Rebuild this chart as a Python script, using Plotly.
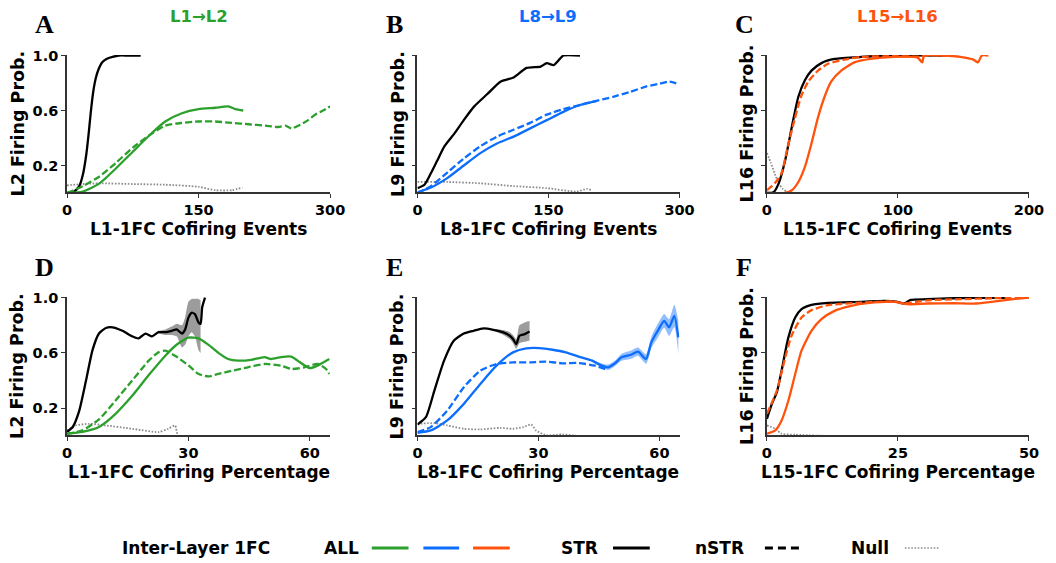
import plotly.graph_objects as go

# ---------------- colours ----------------
GREEN = "#2ca02c"
BLUE = "#0d6efd"
ORANGE = "#ff530d"
BLACK = "#000000"
NULLC = "#8c8c8c"

# ---------------- panel A : L1->L2, events ----------------
A_STR_x = [0, 4, 8, 14, 18, 22, 25, 27, 30, 33, 36, 40, 45, 52, 59, 70, 84]
A_STR_y = [0.0, 0.0, 0.01, 0.05, 0.13, 0.28, 0.45, 0.58, 0.74, 0.84, 0.90, 0.95, 0.975, 0.99, 1.0, 1.0, 1.0]
A_ALL_x = [0, 18, 37, 56, 75, 94, 112, 131, 150, 169, 184, 192, 201]
A_ALL_y = [0.0, 0.01, 0.07, 0.18, 0.30, 0.42, 0.52, 0.58, 0.61, 0.62, 0.63, 0.61, 0.60]
A_NSTR_x = [0, 18, 37, 56, 75, 94, 112, 131, 150, 169, 188, 207, 226, 241, 249, 256, 264, 275, 283, 292, 300]
A_NSTR_y = [0.0, 0.05, 0.12, 0.22, 0.33, 0.42, 0.49, 0.51, 0.52, 0.52, 0.51, 0.50, 0.49, 0.48, 0.49, 0.47, 0.49, 0.53, 0.57, 0.60, 0.63]
A_NULL_x = [0, 18, 37, 75, 112, 150, 169, 188, 200]
A_NULL_y = [0.055, 0.065, 0.07, 0.065, 0.06, 0.045, 0.02, 0.02, 0.04]

# ---------------- panel B : L8->L9, events ----------------
B_STR_x = [0, 8, 15.5, 23, 31, 42, 53, 65, 80, 95, 110, 125, 141, 148, 156, 163, 167, 186]
B_STR_y = [0.035, 0.06, 0.145, 0.24, 0.34, 0.43, 0.53, 0.63, 0.72, 0.81, 0.84, 0.91, 0.92, 0.945, 0.93, 0.976, 1.0, 1.0]
B_ALL_x = [0, 15.5, 34.5, 53, 72, 91, 110, 129, 148, 167, 186, 205]
B_ALL_y = [0.005, 0.04, 0.11, 0.20, 0.29, 0.36, 0.41, 0.47, 0.53, 0.59, 0.64, 0.67]
B_NSTR_x = [0, 15.5, 34.5, 53, 72, 91, 110, 129, 148, 167, 186, 205, 224, 243, 262, 277, 288, 300]
B_NSTR_y = [0.0, 0.05, 0.15, 0.25, 0.34, 0.41, 0.46, 0.51, 0.57, 0.61, 0.64, 0.67, 0.70, 0.735, 0.775, 0.795, 0.81, 0.79]
B_NULL_x = [0, 34.5, 72, 110, 148, 182, 194, 199]
B_NULL_y = [0.08, 0.08, 0.07, 0.05, 0.035, 0.01, 0.03, 0.02]

# ---------------- panel C : L15->L16, events ----------------
C_STR_x = [0, 5, 9, 14, 19, 24, 29, 34, 41.6, 51.7, 72, 97, 137]
C_STR_y = [0.0, 0.005, 0.07, 0.24, 0.48, 0.70, 0.82, 0.89, 0.945, 0.975, 0.99, 1.0, 1.0]
C_ALL_x = [0, 14, 19, 24, 29, 34, 39, 44, 49, 56.7, 66.8, 79, 97, 115, 118.5, 120, 135, 147.5, 157.6, 161, 164, 169]
C_ALL_y = [0.0, 0.0, 0.02, 0.08, 0.19, 0.36, 0.55, 0.70, 0.81, 0.89, 0.95, 0.975, 0.99, 0.985, 0.95, 1.0, 1.0, 0.99, 0.97, 0.95, 1.0, 1.0]
C_NSTR_x = [0, 6, 11, 16, 21, 26, 31.5, 39, 46.6, 59, 72, 97, 117, 120, 137]
C_NSTR_y = [0.02, 0.07, 0.14, 0.34, 0.53, 0.70, 0.81, 0.89, 0.94, 0.97, 0.99, 0.995, 0.993, 1.0, 1.0]
C_NULL_x = [0, 3, 6, 9, 12, 15, 20, 73]
C_NULL_y = [0.29, 0.22, 0.14, 0.07, 0.03, 0.01, 0.0, 0.0]

# ---------------- panel D : L1->L2, percentage ----------------
D_STR_x = [0, 1.4, 3, 4.7, 6.3, 7.9, 9.6, 11.2, 13.7, 16.1, 17.7, 19.4, 21, 22.6, 24.3, 25.9, 27.1, 28.4, 29.2, 30, 30.8, 31.6, 32.5, 33, 33.4, 34.1]
D_STR_y = [0.03, 0.065, 0.18, 0.40, 0.62, 0.74, 0.78, 0.785, 0.76, 0.72, 0.705, 0.74, 0.72, 0.75, 0.75, 0.76, 0.77, 0.74, 0.77, 0.855, 0.89, 0.88, 0.82, 0.81, 0.93, 1.0]
D_STR_band_x = [22.6, 24.3, 25.9, 27.1, 28.4, 29.2, 30, 30.8, 31.6, 32.5, 33]
D_STR_band_lo = [0.74, 0.73, 0.73, 0.72, 0.64, 0.66, 0.72, 0.75, 0.72, 0.62, 0.60]
D_STR_band_hi = [0.76, 0.77, 0.79, 0.81, 0.80, 0.86, 0.97, 0.99, 0.99, 0.99, 0.98]
D_ALL_x = [0, 3.8, 7.9, 12, 16.1, 20.2, 24.3, 26.7, 30, 32.5, 34.9, 37.4, 39.8, 42.3, 45.5, 48.8, 50.4, 52.9, 55.4, 57, 60, 62, 64.8]
D_ALL_y = [0.016, 0.03, 0.065, 0.16, 0.29, 0.44, 0.58, 0.65, 0.71, 0.705, 0.66, 0.60, 0.556, 0.544, 0.55, 0.57, 0.556, 0.57, 0.573, 0.544, 0.49, 0.51, 0.556]
D_NSTR_x = [0, 3.8, 7.9, 12, 16.1, 20.2, 22.6, 24.3, 26.7, 30, 32.5, 34.9, 37.4, 40.6, 44.7, 48.8, 52.9, 55.4, 58.6, 62, 64, 64.8]
D_NSTR_y = [0.016, 0.04, 0.12, 0.256, 0.40, 0.544, 0.604, 0.616, 0.58, 0.51, 0.448, 0.43, 0.448, 0.47, 0.496, 0.52, 0.508, 0.484, 0.496, 0.52, 0.484, 0.448]
D_NULL_x = [0, 2.2, 5.5, 9.6, 16.1, 22.6, 25, 26.7, 27.5, 34]
D_NULL_y = [0.04, 0.076, 0.088, 0.076, 0.052, 0.028, 0.052, 0.076, 0.0, 0.0]

# ---------------- panel E : L8->L9, percentage ----------------
E_STR_x = [0, 2.1, 4.2, 6.6, 9, 11.5, 13.9, 16.4, 18.8, 21.3, 22.9, 23.7, 24.5, 25.3, 26.6, 27.8]
E_STR_y = [0.083, 0.136, 0.328, 0.544, 0.688, 0.74, 0.76, 0.777, 0.767, 0.748, 0.724, 0.70, 0.664, 0.724, 0.736, 0.755]
E_STR_band_x = [18.8, 21.3, 22.9, 23.7, 24.5, 25.3, 26.6, 27.8]
E_STR_band_lo = [0.76, 0.73, 0.70, 0.67, 0.63, 0.67, 0.68, 0.69]
E_STR_band_hi = [0.775, 0.765, 0.75, 0.73, 0.70, 0.80, 0.82, 0.83]
E_ALL_x = [0, 3.3, 7.4, 11.5, 15.6, 19.6, 23.7, 27, 30.2, 33.5, 36.8, 40, 43.3, 45.7, 47.3, 49, 50.6, 53, 54.7, 56.7, 58, 59.6, 61.2, 62.4, 63.7, 64.7]
E_ALL_y = [0.023, 0.04, 0.112, 0.232, 0.376, 0.508, 0.604, 0.633, 0.635, 0.623, 0.604, 0.573, 0.544, 0.508, 0.496, 0.525, 0.568, 0.587, 0.609, 0.556, 0.676, 0.76, 0.832, 0.784, 0.868, 0.712]
E_ALL_band_x = [43.3, 45.7, 47.3, 49, 50.6, 53, 54.7, 56.7, 58, 59.6, 61.2, 62.4, 63.7, 64.7]
E_ALL_band_ci = [0.01, 0.015, 0.02, 0.02, 0.025, 0.03, 0.03, 0.035, 0.04, 0.05, 0.05, 0.06, 0.08, 0.12]
E_NSTR_x = [0, 3.3, 7.4, 11.5, 15.6, 19.6, 23.7, 27.8, 31.9, 36, 40, 44, 46.5, 47.3]
E_NSTR_y = [0.028, 0.064, 0.184, 0.352, 0.472, 0.52, 0.532, 0.532, 0.537, 0.525, 0.527, 0.508, 0.484, 0.477]
E_NULL_x = [0, 4.2, 7.4, 11.5, 15.6, 20.5, 23.7, 26.2, 28.2, 29.4, 31.9, 36, 40, 43]
E_NULL_y = [0.088, 0.093, 0.076, 0.052, 0.047, 0.059, 0.052, 0.064, 0.083, 0.04, 0.005, 0.012, 0.0, 0.0]

# ---------------- panel F : L15->L16, percentage ----------------
F_STR_x = [0, 0.95, 1.9, 2.8, 4.1, 5.4, 6.6, 8.5, 11.7, 18, 22.4, 24.9, 26.2, 27.4, 30.6, 35.6, 39.4, 45.7]
F_STR_y = [0.124, 0.232, 0.316, 0.472, 0.712, 0.856, 0.916, 0.947, 0.962, 0.969, 0.976, 0.969, 0.957, 0.983, 0.988, 0.995, 0.998, 0.998]
F_ALL_x = [0, 1.6, 2.8, 4.1, 5.4, 6.6, 8.5, 10.4, 12.9, 16.1, 19.2, 24.3, 26.8, 30.6, 35.6, 40, 43.2, 47, 50]
F_ALL_y = [0.016, 0.04, 0.112, 0.256, 0.448, 0.616, 0.76, 0.844, 0.904, 0.94, 0.959, 0.969, 0.952, 0.957, 0.959, 0.957, 0.971, 0.988, 1.0]
F_NSTR_x = [0, 1.9, 3.5, 4.7, 6.6, 8.5, 11.7, 18, 24.3, 26.2, 30.6, 37, 43.2, 50]
F_NSTR_y = [0.16, 0.328, 0.568, 0.724, 0.856, 0.909, 0.945, 0.964, 0.971, 0.957, 0.98, 0.988, 0.995, 1.0]
F_NULL_x = [0, 1.6, 2.8, 5.4, 11.7]
F_NULL_y = [0.076, 0.052, 0.016, 0.009, 0.0]

# ---------------- text ----------------
PANEL_LETTERS = ["A", "B", "C", "D", "E", "F"]
COL_TITLES = ["L1→L2", "L8→L9", "L15→L16"]
COL_COLORS = [GREEN, BLUE, ORANGE]
Y_TITLES = ["L2 Firing Prob.", "L9 Firing Prob.", "L16 Firing Prob."]
X_TITLES = ["L1-1FC Cofiring Events", "L8-1FC Cofiring Events", "L15-1FC Cofiring Events",
            "L1-1FC Cofiring Percentage", "L8-1FC Cofiring Percentage", "L15-1FC Cofiring Percentage"]
X_RANGES = [[0, 300], [0, 300], [0, 200], [0, 65], [0, 65], [0, 50]]
X_TICKS = [[0, 150, 300], [0, 150, 300], [0, 100, 200], [0, 30, 60], [0, 30, 60], [0, 25, 50]]
Y_TICKS = [0.2, 0.6, 1.0]
Y_TICKTEXT = ["0.2", "0.6", "1.0"]
LEGEND_LABELS = ["Inter-Layer 1FC", "ALL", "STR", "nSTR", "Null"]

FONT = "DejaVu Sans"

fig = go.Figure()

SPL = dict(shape="spline", smoothing=0.6)


def ax_names(i):
    return ("x" if i == 1 else f"x{i}"), ("y" if i == 1 else f"y{i}")


def add_line(i, x, y, color, dash="solid", width=2.2):
    xa, ya = ax_names(i)
    fig.add_trace(go.Scatter(x=x, y=y, mode="lines", xaxis=xa, yaxis=ya,
                             line=dict(color=color, width=width, dash=dash, **SPL),
                             showlegend=False, hoverinfo="skip"))


def add_band(i, x, lo, hi, fill):
    xa, ya = ax_names(i)
    fig.add_trace(go.Scatter(x=x, y=lo, mode="lines", xaxis=xa, yaxis=ya,
                             line=dict(width=0, **SPL), showlegend=False, hoverinfo="skip"))
    fig.add_trace(go.Scatter(x=x, y=hi, mode="lines", xaxis=xa, yaxis=ya, fill="tonexty",
                             fillcolor=fill, line=dict(width=0, **SPL),
                             showlegend=False, hoverinfo="skip"))


DASH = "7px,3px"
DOT = "1.6px,1.6px"

panels = [
    (A_STR_x, A_STR_y, A_ALL_x, A_ALL_y, A_NSTR_x, A_NSTR_y, A_NULL_x, A_NULL_y, GREEN),
    (B_STR_x, B_STR_y, B_ALL_x, B_ALL_y, B_NSTR_x, B_NSTR_y, B_NULL_x, B_NULL_y, BLUE),
    (C_STR_x, C_STR_y, C_ALL_x, C_ALL_y, C_NSTR_x, C_NSTR_y, C_NULL_x, C_NULL_y, ORANGE),
    (D_STR_x, D_STR_y, D_ALL_x, D_ALL_y, D_NSTR_x, D_NSTR_y, D_NULL_x, D_NULL_y, GREEN),
    (E_STR_x, E_STR_y, E_ALL_x, E_ALL_y, E_NSTR_x, E_NSTR_y, E_NULL_x, E_NULL_y, BLUE),
    (F_STR_x, F_STR_y, F_ALL_x, F_ALL_y, F_NSTR_x, F_NSTR_y, F_NULL_x, F_NULL_y, ORANGE),
]

# bands
add_band(4, D_STR_band_x, D_STR_band_lo, D_STR_band_hi, "rgba(90,90,90,0.6)")
add_band(5, E_STR_band_x, E_STR_band_lo, E_STR_band_hi, "rgba(90,90,90,0.6)")
E_lo = [E_ALL_y[E_ALL_x.index(v)] - c for v, c in zip(E_ALL_band_x, E_ALL_band_ci)]
E_hi = [E_ALL_y[E_ALL_x.index(v)] + c for v, c in zip(E_ALL_band_x, E_ALL_band_ci)]
add_band(5, E_ALL_band_x, E_lo, E_hi, "rgba(13,110,253,0.45)")

for i, (sx, sy, ax_, ay, nx, ny, ux, uy, col) in enumerate(panels, start=1):
    add_line(i, ux, uy, NULLC, DOT, 1.8)
    add_line(i, sx, sy, BLACK, "solid", 2.3)
    add_line(i, ax_, ay, col, "solid", 2.3)
    add_line(i, nx, ny, col, DASH, 2.3)

# ---------------- layout ----------------
W, H = 1056, 563
ML, MR, MT, MB = 67, 20, 55, 128
PW, PH = W - ML - MR, H - MT - MB
col_px = [(67, 332), (420, 684), (772, 1036)]
row_px = [(55, 192), (297, 435)]

layout = dict(width=W, height=H, margin=dict(l=ML, r=MR, t=MT, b=MB),
              plot_bgcolor="white", paper_bgcolor="white",
              font=dict(family=FONT, color="black"))

annotations = []
shapes = []
AXC = "#333333"
for i in range(1, 7):
    r, c = (i - 1) // 3, (i - 1) % 3
    x0, x1 = col_px[c]
    y0, y1 = row_px[r]
    xd = [(x0 - ML) / PW, (x1 - ML) / PW]
    yd = [(H - MB - y1) / PH, (H - MB - y0) / PH]
    xk = "xaxis" if i == 1 else f"xaxis{i}"
    yk = "yaxis" if i == 1 else f"yaxis{i}"
    xa, ya = ax_names(i)
    layout[xk] = dict(domain=[max(0, xd[0]), min(1, xd[1])], anchor=ya, range=X_RANGES[i - 1],
                      tickvals=X_TICKS[i - 1], showline=True, linecolor=AXC, linewidth=1.6,
                      ticks="outside", ticklen=4, tickwidth=1.4, tickcolor=AXC,
                      showgrid=False, zeroline=False,
                      tickfont=dict(size=14.5, family=FONT, weight="bold"))
    layout[yk] = dict(domain=[max(0, yd[0]), min(1, yd[1])], anchor=xa, range=[0.007, 1.004],
                      tickvals=Y_TICKS, ticktext=Y_TICKTEXT, showticklabels=(c == 0),
                      showline=True, linecolor=AXC, linewidth=1.6,
                      ticks="outside", ticklen=4, tickwidth=1.4, tickcolor=AXC,
                      showgrid=False, zeroline=False,
                      tickfont=dict(size=14.5, family=FONT, weight="bold"))
    # x-axis title
    annotations.append(dict(text=X_TITLES[i - 1], xref=f"{xa} domain", yref=f"{ya} domain",
                            x=0.5, y=0, yshift=-37, xanchor="center", yanchor="middle",
                            showarrow=False, font=dict(size=17, family=FONT, weight="bold")))
    # y-axis title
    annotations.append(dict(text=Y_TITLES[c], xref=f"{xa} domain", yref=f"{ya} domain",
                            x=0, y=0.5, xshift=(-50 if c == 0 else -20), textangle=-90,
                            xanchor="center", yanchor="middle", showarrow=False,
                            font=dict(size=17.5, family=FONT, weight="bold")))
    # panel letter
    annotations.append(dict(text=PANEL_LETTERS[i - 1], xref="paper", yref="paper",
                            x=((x0 - 23) - ML) / PW, y=(H - MB - (y0 - 30)) / PH,
                            xanchor="center", yanchor="middle", showarrow=False,
                            font=dict(size=26, family="Liberation Serif", weight="bold")))
    # column titles
    if r == 0:
        annotations.append(dict(text=COL_TITLES[c], xref=f"{xa} domain", yref="paper",
                                x=0.5, y=(H - MB - 16) / PH, xanchor="center", yanchor="middle",
                                showarrow=False,
                                font=dict(size=16.5, family=FONT, weight="bold", color=COL_COLORS[c])))


# ---------------- bottom legend (text + line samples) ----------------
def px_x(p):
    return (p - ML) / PW


def px_y(p):
    return (H - MB - p) / PH


LEG_Y = 548
LEG_FONT = dict(size=17, family=FONT, weight="bold")
leg_centers = [197, 343, 583, 724, 876]
for t, cx in zip(LEGEND_LABELS, leg_centers):
    annotations.append(dict(text=t, xref="paper", yref="paper", x=px_x(cx), y=px_y(LEG_Y),
                            xanchor="center", yanchor="middle", showarrow=False, font=LEG_FONT))
leg_lines = [((374, 411), GREEN, "solid", 3), ((426, 462), BLUE, "solid", 3),
             ((476, 513), ORANGE, "solid", 3), ((617, 654), BLACK, "solid", 3),
             ((770, 806), BLACK, "8px,5px", 3), ((911, 945), NULLC, "1.6px,1.6px", 1.6)]
for (a, b), colr, dsh, wd in leg_lines:
    shapes.append(dict(type="line", xref="paper", yref="paper", x0=px_x(a), x1=px_x(b),
                       y0=px_y(LEG_Y), y1=px_y(LEG_Y), line=dict(color=colr, width=wd, dash=dsh)))

layout["annotations"] = annotations
layout["shapes"] = shapes
fig.update_layout(**layout)

fig.write_html("out.html", config={"displayModeBar": False},
               post_script="document.body.style.margin='0px';document.body.style.overflow='hidden';")
